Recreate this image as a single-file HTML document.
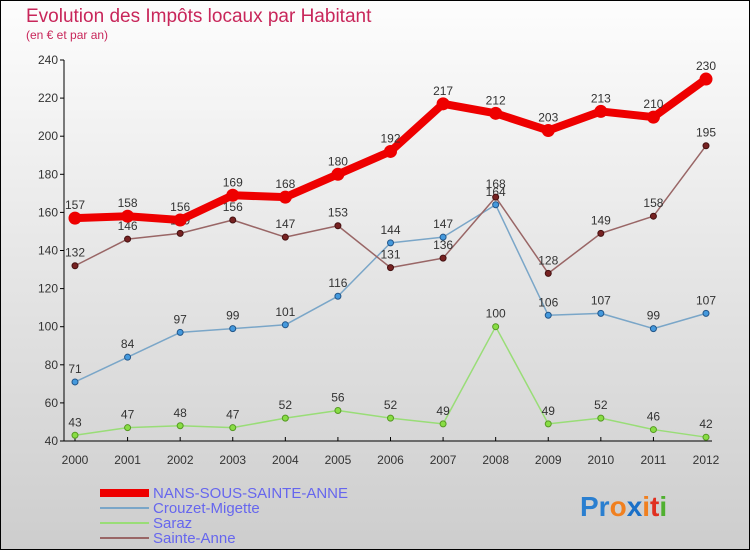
<!DOCTYPE html>
<html><head><meta charset="utf-8"><style>
body{margin:0}
#c{width:750px;height:550px;position:relative;overflow:hidden;font-family:"Liberation Sans",sans-serif}
</style></head><body>
<div id="c">
<svg width="750" height="550" xmlns="http://www.w3.org/2000/svg">
<defs><linearGradient id="bg" x1="0" y1="0" x2="0" y2="1"><stop offset="0" stop-color="#fdfdfd"/><stop offset="1" stop-color="#cdcdcd"/></linearGradient></defs>
<rect x="0.5" y="0.5" width="749" height="549" fill="url(#bg)" stroke="#000"/>
<text x="26" y="22" font-size="19" fill="#c8265a">Evolution des Impôts locaux par Habitant</text>
<text x="26" y="39" font-size="12" fill="#c8265a">(en € et par an)</text>
<g id="axes"></g>
<g id="series"></g>
<g id="legend">
<rect x="100" y="489" width="49" height="8" fill="#e00"/>
<text x="153" y="498" font-size="15" fill="#6666ee">NANS-SOUS-SAINTE-ANNE</text>
<rect x="100" y="507" width="49" height="2" fill="#7aa6c8"/>
<text x="153" y="513" font-size="15" fill="#6666ee">Crouzet-Migette</text>
<rect x="100" y="522" width="49" height="2" fill="#99dd77"/>
<text x="153" y="528" font-size="15" fill="#6666ee">Saraz</text>
<rect x="100" y="537" width="49" height="2" fill="#996666"/>
<text x="153" y="543" font-size="15" fill="#6666ee">Sainte-Anne</text>
</g>
<text x="580" y="516" font-size="28" font-weight="bold"><tspan fill="#2a7fd0">Pr</tspan><tspan fill="#f08020">o</tspan><tspan fill="#1a70c8">x</tspan><tspan fill="#f08020">i</tspan><tspan fill="#e03020">t</tspan><tspan fill="#50b030">i</tspan></text>
</svg>
</div>
<script>
const years=[2000,2001,2002,2003,2004,2005,2006,2007,2008,2009,2010,2011,2012];
const yTicks=[40,60,80,100,120,140,160,180,200,220,240];
const nans=[157,158,156,169,168,180,192,217,212,203,213,210,230];
const crouzet=[71,84,97,99,101,116,144,147,164,106,107,99,107];
const saraz=[43,47,48,47,52,56,52,49,100,49,52,46,42];
const sainteAnne=[132,146,149,156,147,153,131,136,168,128,149,158,195];
const NS="http://www.w3.org/2000/svg";
const x0=75,x1=706,yTop=60,yBot=441;
const xs=i=>x0+(x1-x0)*i/(years.length-1);
const ys=v=>yBot-(v-40)/(240-40)*(yBot-yTop);
function mk(t,a,p){const e=document.createElementNS(NS,t);for(const k in a)e.setAttribute(k,a[k]);p.appendChild(e);return e;}
const ax=document.getElementById('axes');
let e=mk('line',{x1:64,y1:yTop,x2:64,y2:yBot,stroke:'#000'},ax);


e=mk('line',{x1:64,y1:yBot,x2:712,y2:yBot,stroke:'#000'},ax);


yTicks.forEach(v=>{
 const t=mk('line',{x1:60,y1:ys(v),x2:64,y2:ys(v),stroke:'#000'},ax);
 
 
 const l=mk('text',{x:58,y:ys(v)+4,'font-size':12,fill:'#333','text-anchor':'end'},ax);
 l.textContent=v;
 
 
});
years.forEach((y,i)=>{
 const t=mk('line',{x1:xs(i),y1:yBot,x2:xs(i),y2:yBot-4,stroke:'#000'},ax);
 
 
 const l=mk('text',{x:xs(i),y:yBot+23,'font-size':12,fill:'#333','text-anchor':'middle'},ax);
 l.textContent=y;
 
 
});
const sg=document.getElementById('series');
function series(vals,name,col,w,r,dot,dotStroke){
 const g=mk('g',{},sg);
 
 
 const p=mk('polyline',{points:vals.map((v,i)=>xs(i)+','+ys(v)).join(' '),fill:'none',stroke:col,'stroke-width':w,'stroke-linejoin':'round'},g);
 
 
 vals.forEach((v,i)=>{
  const c=mk('circle',{cx:xs(i),cy:ys(v),r:r,fill:dot,stroke:dotStroke,'stroke-width':1},g);
  
  
  const t=mk('text',{x:xs(i),y:ys(v)-9,'font-size':12,fill:'#333','text-anchor':'middle'},g);
  t.textContent=v;
  
  
 });
}
series(saraz,'saraz','#99dd77',1.5,3,'#88dd44','#559922');
series(crouzet,'crouzet','#7aa6c8',1.5,3,'#4499dd','#225588');
series(sainteAnne,'sainte-anne','#996666',1.5,3,'#772222','#441111');
series(nans,'nans','#ee0000',8,6,'#ee0000','#ee0000');
</script>
</body></html>
